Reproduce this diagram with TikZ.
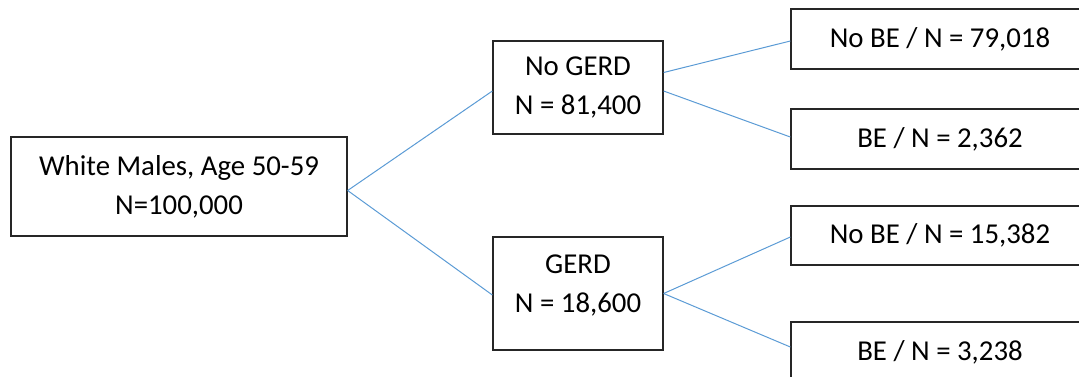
\documentclass[tikz,border=0pt]{standalone}
\usepackage{fontspec}
\setmainfont{Carlito}
\definecolor{linkblue}{HTML}{5B9BD5}
\definecolor{boxline}{HTML}{262626}
\begin{document}
\begin{tikzpicture}[x=1pt,y=-1pt,
  box/.style={draw=boxline, line width=1.3pt, rectangle, inner sep=0pt, align=center,
    font=\fontsize{28.8}{39}\selectfont},
  link/.style={draw=linkblue, line width=1pt}]
\useasboundingbox (0,0) rectangle (1079,376);
\node[box, minimum width=336pt, minimum height=99pt] (root) at (179,186.5) {White Males, Age 50-59\\N=100,000};
\node[box, minimum width=170pt, minimum height=93pt] (nogerd) at (578,87.5) {No GERD\\N = 81,400};
\node[box, minimum width=170pt, minimum height=113pt, text depth=19pt] (gerd) at (578,293.5) {GERD\\N = 18,600};
\node[box, minimum width=298pt, minimum height=60pt] (l1) at (940,39) {No BE / N = 79,018};
\node[box, minimum width=298pt, minimum height=60pt] (l2) at (940,139) {BE / N = 2,362};
\node[box, minimum width=298pt, minimum height=59pt] (l3) at (940,235.5) {No BE / N = 15,382};
\node[box, minimum width=298pt, minimum height=60pt] (l4) at (940,352) {BE / N = 3,238};
\draw[link] ([yshift=-4pt]root.east) -- ([yshift=-3.5pt]nogerd.west);
\draw[link] ([yshift=-4pt]root.east) -- ([yshift=-1.5pt]gerd.west);
\draw[link] ([yshift=15pt]nogerd.east) -- ([yshift=-2pt]l1.west);
\draw[link] ([yshift=-3.5pt]nogerd.east) -- ([yshift=2pt]l2.west);
\draw[link] (gerd.east) -- ([yshift=-1.5pt]l3.west);
\draw[link] (gerd.east) -- ([yshift=5pt]l4.west);
\end{tikzpicture}
\end{document}
